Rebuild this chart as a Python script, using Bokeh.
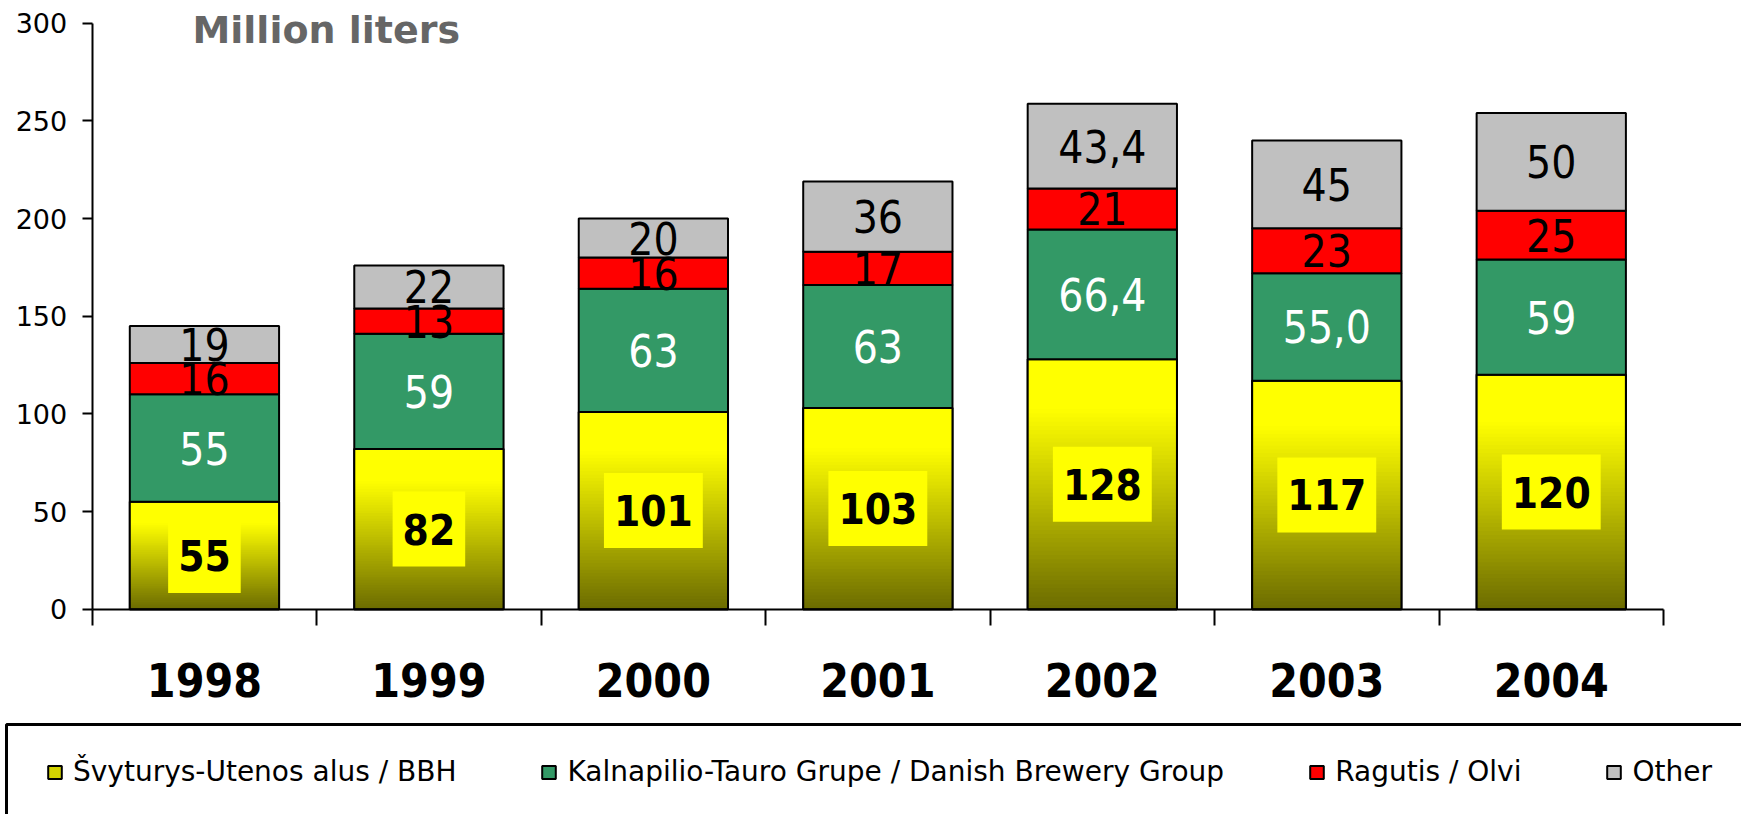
import numpy as np
from bokeh.plotting import figure
from bokeh.models import (Range1d, FixedTicker, Label, Legend, LegendItem, LinearAxis,
                          BoxAnnotation)
from bokeh.core.properties import value
from bokeh.embed import file_html
from bokeh.resources import INLINE

# ---------------- data ----------------
years = ["1998", "1999", "2000", "2001", "2002", "2003", "2004"]
svyturys = [55, 82, 101, 103, 128, 117, 120]
kalnapilis = [55, 59, 63, 63, 66.4, 55.0, 59]
ragutis = [16, 13, 16, 17, 21, 23, 25]
other = [19, 22, 20, 36, 43.4, 45, 50]
svyturys_lbl = ["55", "82", "101", "103", "128", "117", "120"]
kalnapilis_lbl = ["55", "59", "63", "63", "66,4", "55,0", "59"]
ragutis_lbl = ["16", "13", "16", "17", "21", "23", "25"]
other_lbl = ["19", "22", "20", "36", "43,4", "45", "50"]
series_names = ["Švyturys-Utenos alus / BBH",
                "Kalnapilio-Tauro Grupe / Danish Brewery Group",
                "Ragutis / Olvi", "Other"]
y_ticks = [0, 50, 100, 150, 200, 250, 300]
y_max = 300
title_text = "Million liters"

# ---------------- layout (pixels) ----------------
W, H = 1741, 814
PX_LEFT, PX_RIGHT = 91.7, 1663.0      # x axis extent on the canvas
PX_ZERO, PX_TOP = 608.7, 22.7         # y=0 and y=300 on the canvas
ncat = len(years)
xppu = (PX_RIGHT - PX_LEFT) / ncat
yppu = (PX_ZERO - PX_TOP) / y_max
x_range = Range1d(-PX_LEFT / xppu, (W - PX_LEFT) / xppu)
y_range = Range1d(-(H - PX_ZERO) / yppu, PX_ZERO / yppu)

def dx(px):
    return (px - PX_LEFT) / xppu

def dy(py):
    return (PX_ZERO - py) / yppu

BW = 0.665
YELLOW_LEG = "#D4D400"
GREEN = "#339966"
RED = "#FF0000"
GRAY = "#C0C0C0"
COND = "DejaVu Sans Condensed"

xs = np.arange(ncat) + 0.5
s0 = np.array(svyturys, dtype=float)
s1 = np.array(kalnapilis, dtype=float)
s2 = np.array(ragutis, dtype=float)
s3 = np.array(other, dtype=float)
t0 = s0
t1 = t0 + s1
t2 = t1 + s2
t3 = t2 + s3

p = figure(width=W, height=H, x_range=x_range, y_range=y_range,
           output_backend="svg", toolbar_location=None, min_border=0,
           x_axis_location=None, y_axis_location=None)
p.xgrid.visible = False
p.ygrid.visible = False
p.outline_line_color = None
p.background_fill_color = "white"
p.border_fill_color = "white"

# yellow segment: base (used by legend), gradient slices, outline
r_yel = p.vbar(x=xs, bottom=0, top=t0, width=BW, fill_color=YELLOW_LEG,
               line_color="black", line_width=2)
N = 60
gx, gb, gt, gc = [], [], [], []
for i, v in enumerate(s0):
    for k in range(N):
        f = (k + 0.5) / N
        t = min(1.0, f / 0.8)
        c = int(round(0x6B + (0xFF - 0x6B) * t))
        gx.append(xs[i])
        gb.append(v * k / N)
        gt.append(min(v, v * (k + 1.6) / N))
        gc.append("#%02x%02x00" % (c, c))
p.vbar(x=gx, bottom=gb, top=gt, width=BW, fill_color=gc, line_color=None)
p.vbar(x=xs, bottom=0, top=t0, width=BW, fill_color=None, line_color="black", line_width=2)
r_grn = p.vbar(x=xs, bottom=t0, top=t1, width=BW, fill_color=GREEN, line_color="black", line_width=2)
r_red = p.vbar(x=xs, bottom=t1, top=t2, width=BW, fill_color=RED, line_color="black", line_width=2)
r_gry = p.vbar(x=xs, bottom=t2, top=t3, width=BW, fill_color=GRAY, line_color="black", line_width=2)

# segment labels
p.text(x=xs, y=t0 / 2, text=svyturys_lbl, text_font=value(COND), text_font_style="bold",
       text_font_size="42px", text_align="center", text_baseline="middle",
       text_color="black", background_fill_color="#FFFF00", padding=(10, 10, 22, 22))
p.text(x=xs, y=t0 + s1 / 2, text=kalnapilis_lbl, text_font=value(COND),
       text_font_size="44px", text_align="center", text_baseline="middle", text_color="white")
p.text(x=xs, y=t1 + s2 / 2, text=ragutis_lbl, text_font=value(COND),
       text_font_size="44px", text_align="center", text_baseline="middle", text_color="black")
p.text(x=xs, y=t2 + s3 / 2, text=other_lbl, text_font=value(COND),
       text_font_size="44px", text_align="center", text_baseline="middle", text_color="black")

p.add_layout(Label(x=dx(192), y=dy(29), text=title_text, text_font="DejaVu Sans",
                   text_font_style="bold", text_font_size="38px", text_color="#666666",
                   text_baseline="middle", text_align="left"))

# axes drawn at fixed data locations
yax = LinearAxis(ticker=FixedTicker(ticks=y_ticks), fixed_location=0, bounds=(0, y_max),
                 major_tick_out=10, major_tick_in=0,
                 minor_tick_out=0, minor_tick_in=0, axis_line_width=2,
                 major_tick_line_width=2, major_label_text_font="DejaVu Sans",
                 major_label_text_font_size="27px", major_label_standoff=15,
                 major_label_text_color="black")
p.add_layout(yax, "left")

xax = LinearAxis(ticker=FixedTicker(ticks=list(xs), minor_ticks=list(range(ncat + 1))),
                 fixed_location=0, bounds=(0, ncat),
                 major_label_overrides={float(x): y for x, y in zip(xs, years)},
                 major_tick_out=0, major_tick_in=0, minor_tick_out=16, minor_tick_in=0,
                 minor_tick_line_width=2, axis_line_width=2,
                 major_label_text_font=COND, major_label_text_font_style="bold",
                 major_label_text_font_size="46px", major_label_standoff=38,
                 major_label_text_color="black")
p.add_layout(xax, "below")

# ---------------- legend ----------------
p.add_layout(BoxAnnotation(left=dx(6), right=dx(W + 60), top=dy(724), bottom=dy(H + 60),
                           fill_alpha=0, line_color="black", line_alpha=1.0,
                           line_width=3, level="overlay"))
items = [LegendItem(label=n, renderers=[r]) for n, r in
         zip(series_names, [r_yel, r_grn, r_red, r_gry])]
leg = Legend(items=items, orientation="horizontal", location=(46, 26), padding=0,
             margin=0, spacing=84, glyph_width=17, glyph_height=16, label_standoff=10,
             label_text_font="DejaVu Sans", label_text_font_size="28px",
             label_text_color="black", border_line_color=None,
             background_fill_alpha=0)
p.add_layout(leg)

open("out.html", "w").write(file_html(p, INLINE))
